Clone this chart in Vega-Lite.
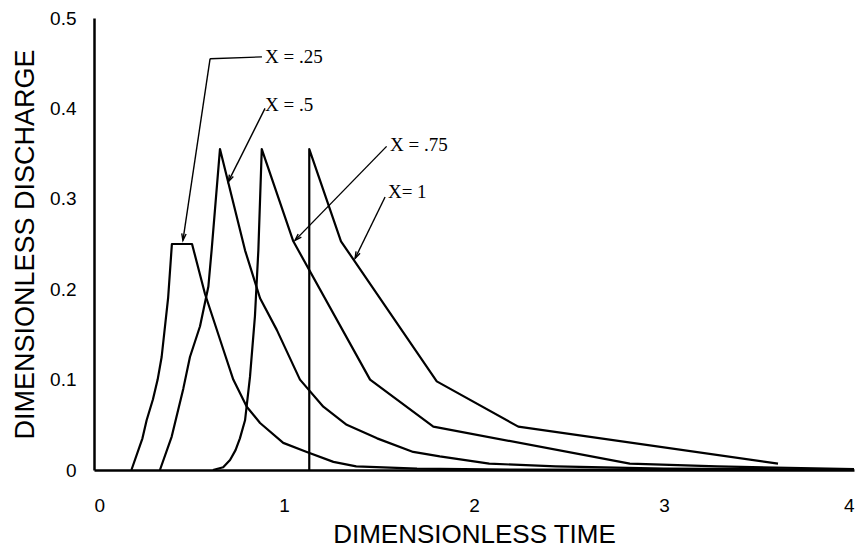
{
  "$schema": "https://vega.github.io/schema/vega-lite/v6.json",
  "width": 760,
  "height": 452,
  "autosize": {"type": "none"},
  "padding": {"left": 94, "top": 18, "right": 10, "bottom": 80},
  "background": "white",
  "config": {
    "view": {"stroke": null},
    "axis": {
      "grid": false,
      "ticks": false,
      "tickSize": 0,
      "domainColor": "black",
      "domainWidth": 2.5,
      "labelFont": "Liberation Sans",
      "labelFontSize": 19,
      "labelColor": "black",
      "titleFont": "Liberation Sans",
      "titleFontWeight": "normal",
      "titleColor": "black"
    }
  },
  "datasets": {
    "curves": [
      {"s": "0.25", "i": 1, "t": 0.197, "q": 0},
      {"s": "0.25", "i": 2, "t": 0.255, "q": 0.035},
      {"s": "0.25", "i": 3, "t": 0.277, "q": 0.055},
      {"s": "0.25", "i": 4, "t": 0.31, "q": 0.078},
      {"s": "0.25", "i": 5, "t": 0.335, "q": 0.1},
      {"s": "0.25", "i": 6, "t": 0.356, "q": 0.125},
      {"s": "0.25", "i": 7, "t": 0.39, "q": 0.19},
      {"s": "0.25", "i": 8, "t": 0.41, "q": 0.25},
      {"s": "0.25", "i": 9, "t": 0.516, "q": 0.25},
      {"s": "0.25", "i": 10, "t": 0.584, "q": 0.195},
      {"s": "0.25", "i": 11, "t": 0.681, "q": 0.133},
      {"s": "0.25", "i": 12, "t": 0.733, "q": 0.1},
      {"s": "0.25", "i": 13, "t": 0.804, "q": 0.07},
      {"s": "0.25", "i": 14, "t": 0.874, "q": 0.052},
      {"s": "0.25", "i": 15, "t": 0.996, "q": 0.03},
      {"s": "0.25", "i": 16, "t": 1.12, "q": 0.02},
      {"s": "0.25", "i": 17, "t": 1.26, "q": 0.009},
      {"s": "0.25", "i": 18, "t": 1.38, "q": 0.004},
      {"s": "0.25", "i": 19, "t": 1.7, "q": 0.0015},
      {"s": "0.25", "i": 20, "t": 2.2, "q": 0.0005},
      {"s": "0.25", "i": 21, "t": 4.0, "q": 0},
      {"s": "0.5", "i": 1, "t": 0.347, "q": 0},
      {"s": "0.5", "i": 2, "t": 0.409, "q": 0.037},
      {"s": "0.5", "i": 3, "t": 0.47, "q": 0.09},
      {"s": "0.5", "i": 4, "t": 0.505, "q": 0.125},
      {"s": "0.5", "i": 5, "t": 0.558, "q": 0.159},
      {"s": "0.5", "i": 6, "t": 0.602, "q": 0.203},
      {"s": "0.5", "i": 7, "t": 0.619, "q": 0.243},
      {"s": "0.5", "i": 8, "t": 0.663, "q": 0.355},
      {"s": "0.5", "i": 9, "t": 0.795, "q": 0.243},
      {"s": "0.5", "i": 10, "t": 0.874, "q": 0.19},
      {"s": "0.5", "i": 11, "t": 0.962, "q": 0.155},
      {"s": "0.5", "i": 12, "t": 1.084, "q": 0.1},
      {"s": "0.5", "i": 13, "t": 1.207, "q": 0.07},
      {"s": "0.5", "i": 14, "t": 1.33, "q": 0.05},
      {"s": "0.5", "i": 15, "t": 1.49, "q": 0.035},
      {"s": "0.5", "i": 16, "t": 1.68, "q": 0.02},
      {"s": "0.5", "i": 17, "t": 1.82, "q": 0.015},
      {"s": "0.5", "i": 18, "t": 2.08, "q": 0.007},
      {"s": "0.5", "i": 19, "t": 2.43, "q": 0.004},
      {"s": "0.5", "i": 20, "t": 3.0, "q": 0.0015},
      {"s": "0.5", "i": 21, "t": 4.0, "q": 0.0003},
      {"s": "0.75", "i": 1, "t": 0.626, "q": 0},
      {"s": "0.75", "i": 2, "t": 0.68, "q": 0.003},
      {"s": "0.75", "i": 3, "t": 0.716, "q": 0.011},
      {"s": "0.75", "i": 4, "t": 0.745, "q": 0.022},
      {"s": "0.75", "i": 5, "t": 0.768, "q": 0.035},
      {"s": "0.75", "i": 6, "t": 0.795, "q": 0.055},
      {"s": "0.75", "i": 7, "t": 0.821, "q": 0.103},
      {"s": "0.75", "i": 8, "t": 0.847, "q": 0.17},
      {"s": "0.75", "i": 9, "t": 0.865, "q": 0.243},
      {"s": "0.75", "i": 10, "t": 0.883, "q": 0.355},
      {"s": "0.75", "i": 11, "t": 1.049, "q": 0.253},
      {"s": "0.75", "i": 12, "t": 1.453, "q": 0.1},
      {"s": "0.75", "i": 13, "t": 1.786, "q": 0.048},
      {"s": "0.75", "i": 14, "t": 2.82, "q": 0.007},
      {"s": "0.75", "i": 15, "t": 3.28, "q": 0.004},
      {"s": "0.75", "i": 16, "t": 4.0, "q": 0.001},
      {"s": "1", "i": 1, "t": 1.133, "q": 0},
      {"s": "1", "i": 2, "t": 1.133, "q": 0.355},
      {"s": "1", "i": 3, "t": 1.3, "q": 0.253},
      {"s": "1", "i": 4, "t": 1.804, "q": 0.098},
      {"s": "1", "i": 5, "t": 2.233, "q": 0.048},
      {"s": "1", "i": 6, "t": 3.6, "q": 0.007}
    ],
    "arrows": [
      {"s": "0.25", "t1": 0.611, "q1": 0.455, "t2": 0.468, "q2": 0.254},
      {"s": "0.5", "t1": 0.9, "q1": 0.4, "t2": 0.707, "q2": 0.319},
      {"s": "0.75", "t1": 1.54, "q1": 0.358, "t2": 1.058, "q2": 0.254},
      {"s": "1", "t1": 1.532, "q1": 0.302, "t2": 1.374, "q2": 0.234}
    ],
    "hooks": [
      {"s": "0.25", "t1": 0.611, "q1": 0.455, "t2": 0.884, "q2": 0.457}
    ],
    "labels": [
      {"label": "X = .25", "t": 0.9, "q": 0.457},
      {"label": "X = .5", "t": 0.9, "q": 0.404},
      {"label": "X = .75", "t": 1.558, "q": 0.36},
      {"label": "X= 1", "t": 1.547, "q": 0.308}
    ]
  },
  "layer": [
    {
      "data": {"name": "curves"},
      "mark": {"type": "line", "color": "black", "strokeWidth": 2.2, "strokeJoin": "round"},
      "encoding": {
        "x": {
          "field": "t", "type": "quantitative",
          "scale": {"domain": [0, 4], "nice": false, "zero": false},
          "axis": {"values": [0, 1, 2, 3, 4], "format": "d", "title": "DIMENSIONLESS TIME", "titleFontSize": 26, "labelPadding": 26, "titlePadding": 6}
        },
        "y": {
          "field": "q", "type": "quantitative",
          "scale": {"domain": [0, 0.5], "nice": false},
          "axis": {"values": [0, 0.1, 0.2, 0.3, 0.4, 0.5], "labelExpr": "datum.value == 0 ? '0' : format(datum.value, '.1f')", "title": "DIMENSIONLESS DISCHARGE", "titleFontSize": 27, "labelPadding": 18, "titlePadding": 10}
        },
        "detail": {"field": "s"},
        "order": {"field": "i", "type": "quantitative"}
      }
    },
    {
      "data": {"name": "arrows"},
      "mark": {"type": "rule", "color": "black", "strokeWidth": 1.4},
      "encoding": {
        "x": {"field": "t1", "type": "quantitative"},
        "y": {"field": "q1", "type": "quantitative"},
        "x2": {"field": "t2"},
        "y2": {"field": "q2"}
      }
    },
    {
      "data": {"name": "hooks"},
      "mark": {"type": "rule", "color": "black", "strokeWidth": 1.4},
      "encoding": {
        "x": {"field": "t1", "type": "quantitative"},
        "y": {"field": "q1", "type": "quantitative"},
        "x2": {"field": "t2"},
        "y2": {"field": "q2"}
      }
    },
    {
      "data": {"name": "arrows"},
      "transform": [
        {"calculate": "atan2((datum.t2 - datum.t1) * 190, (datum.q2 - datum.q1) * 904) * 180 / PI", "as": "ang"}
      ],
      "mark": {"type": "point", "shape": "M -0.55 1.7 L 0 0 L 0.55 1.7", "filled": false, "stroke": "black", "strokeWidth": 1.4, "size": 64, "opacity": 1},
      "encoding": {
        "x": {"field": "t2", "type": "quantitative"},
        "y": {"field": "q2", "type": "quantitative"},
        "angle": {"field": "ang", "type": "quantitative", "scale": null}
      }
    },
    {
      "data": {"name": "labels"},
      "mark": {"type": "text", "align": "left", "baseline": "middle", "font": "Liberation Serif", "fontSize": 19, "color": "black"},
      "encoding": {
        "x": {"field": "t", "type": "quantitative"},
        "y": {"field": "q", "type": "quantitative"},
        "text": {"field": "label"}
      }
    }
  ]
}
